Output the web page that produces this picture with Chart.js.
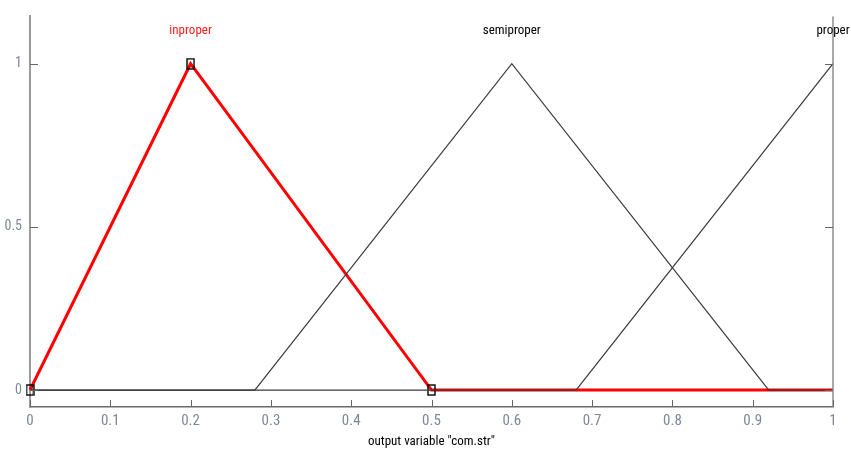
<!DOCTYPE html>
<html>
<head>
<meta charset="utf-8">
<script src="https://cdn.jsdelivr.net/npm/chart.js@4/dist/chart.umd.min.js"></script>
<style>
html,body{margin:0;padding:0;background:#fff;}
#wrap{width:851px;height:451px;position:relative;}
</style>
</head>
<body>
<div id="wrap"><canvas id="c" width="851" height="451"></canvas></div>
<script>
// ---- data ----
const xTickValues = [0,0.1,0.2,0.3,0.4,0.5,0.6,0.7,0.8,0.9,1];
const xTickLabels = ['0','0.1','0.2','0.3','0.4','0.5','0.6','0.7','0.8','0.9','1'];
const yTickValues = [0,0.5,1];
const yTickLabels = ['0','0.5','1'];
const mfNames = ['inproper','semiproper','proper'];
const mfPeaks = [0.2,0.6,1];
const mfLabelY = 1.1;
const inproperX = [0,0.2,0.5,1];
const inproperY = [0,1,0,0];
const semiproperX = [0,0.28,0.6,0.92,1];
const semiproperY = [0,0,1,0,0];
const properX = [0,0.68,1];
const properY = [0,0,1];
const xTitle = 'output variable "com.str"';

const FONT = "'Liberation Sans Narrow','Arial Narrow','Roboto Condensed','DejaVu Sans Condensed',sans-serif";

function pts(xs, ys){ return xs.map((x,i)=>({x:x,y:ys[i]})); }

// small rectangle marker for selected MF vertices
const mk = document.createElement('canvas');
mk.width = 9; mk.height = 12;
(function(){
  const g = mk.getContext('2d');
  g.strokeStyle = '#000'; g.lineWidth = 1.4;
  g.strokeRect(1,1,7,10);
})();

const labelPlugin = {
  id:'mfLabels',
  afterDatasetsDraw(chart){
    const {ctx, scales:{x,y}, chartArea:a} = chart;
    ctx.save();
    // right border
    ctx.strokeStyle = '#8c8c8c'; ctx.lineWidth = 1.5;
    ctx.beginPath(); ctx.moveTo(a.right, a.top); ctx.lineTo(a.right, a.bottom); ctx.stroke();
    // inward ticks
    ctx.strokeStyle = '#666'; ctx.lineWidth = 1;
    x.ticks.forEach(t=>{
      const px = Math.round(x.getPixelForValue(t.value))+0.5;
      ctx.beginPath(); ctx.moveTo(px, a.bottom); ctx.lineTo(px, a.bottom-7); ctx.stroke();
    });
    y.ticks.forEach(t=>{
      const py = Math.round(y.getPixelForValue(t.value))+0.5;
      ctx.beginPath(); ctx.moveTo(a.left, py); ctx.lineTo(a.left+8, py); ctx.stroke();
      ctx.beginPath(); ctx.moveTo(a.right, py); ctx.lineTo(a.right-8, py); ctx.stroke();
    });
    // MF names
    ctx.font = '13px ' + FONT;
    ctx.textAlign = 'center'; ctx.textBaseline = 'middle';
    mfNames.forEach((n,i)=>{
      ctx.fillStyle = i===0 ? '#ff1a1a' : '#000';
      ctx.fillText(n, x.getPixelForValue(mfPeaks[i]), y.getPixelForValue(mfLabelY));
    });
    ctx.restore();
  }
};

new Chart(document.getElementById('c'), {
  type:'scatter',
  data:{
    datasets:[
      {label:mfNames[0], data:pts(inproperX,inproperY), showLine:true, borderColor:'#ff0000', borderWidth:3,
       pointStyle:mk, pointRadius:[5,5,5,0], order:3, clip:false, fill:false},
      {label:mfNames[1], data:pts(semiproperX,semiproperY), showLine:true, borderColor:'#3a3a3a', borderWidth:1.2,
       pointRadius:0, order:1, clip:false, fill:false},
      {label:mfNames[2], data:pts(properX,properY), showLine:true, borderColor:'#3a3a3a', borderWidth:1.2,
       pointRadius:0, order:2, clip:false, fill:false}
    ]
  },
  options:{
    responsive:false, animation:false,
    layout:{padding:{top:12,right:18,left:0,bottom:0}},
    plugins:{legend:{display:false}, tooltip:{enabled:false}},
    elements:{line:{tension:0}},
    scales:{
      x:{
        type:'linear', min:0, max:1,
        afterBuildTicks(s){ s.ticks = xTickValues.map(v=>({value:v})); },
        afterFit(s){ s.height = 44; },
        ticks:{padding:5, color:'#7d8898', font:{family:FONT,size:15},
          callback:(v,i)=>xTickLabels[i], maxRotation:0, autoSkip:false},
        grid:{display:false, drawTicks:false},
        border:{display:true, color:'#6a6a6a', width:1.5},
        title:{display:true, text:xTitle, color:'#000', font:{family:FONT,size:13}, padding:{top:0,bottom:1}}
      },
      y:{
        type:'linear', min:-0.052, max:1.145,
        afterBuildTicks(s){ s.ticks = yTickValues.map(v=>({value:v})); },
        afterFit(s){ s.width = 30; },
        ticks:{padding:8, color:'#7d8898', font:{family:FONT,size:14},
          callback:(v,i)=>yTickLabels[i]},
        grid:{display:false, drawTicks:false},
        border:{display:true, color:'#9a9a9a', width:2}
      }
    }
  },
  plugins:[labelPlugin]
});
</script>
</body>
</html>
